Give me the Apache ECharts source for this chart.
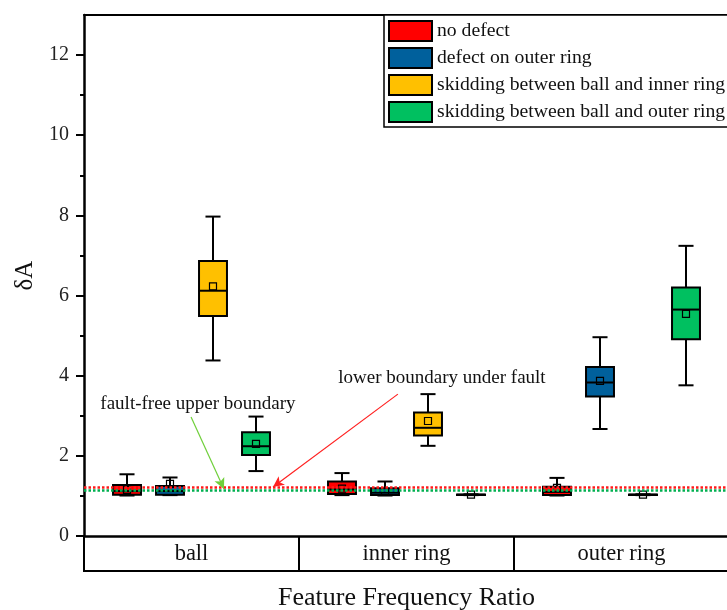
<!DOCTYPE html>
<html><head><meta charset="utf-8">
<script src="https://cdn.jsdelivr.net/npm/echarts@6/dist/echarts.min.js"></script>
<style>html,body{margin:0;padding:0;background:#fff}#c{width:727px;height:610px}</style>
</head><body><div id="c"></div>
<script>
// ---------- data ----------
const categories = ['ball', 'inner ring', 'outer ring'];
const seriesNames = ['no defect', 'defect on outer ring', 'skidding between ball and inner ring', 'skidding between ball and outer ring'];
// per category: [min, Q1, median, Q3, max, mean]
const noDefect    = [[1.01, 1.03, 1.12, 1.27, 1.54, 1.15], [1.02, 1.05, 1.16, 1.36, 1.57, 1.18], [1.01, 1.02, 1.10, 1.23, 1.45, 1.20]];
const outerDefect = [[1.02, 1.03, 1.12, 1.25, 1.46, 1.30], [1.01, 1.02, 1.08, 1.19, 1.36, 1.10], [2.67, 3.48, 3.83, 4.22, 4.96, 3.87]];
const skidInner   = [[4.38, 5.49, 6.12, 6.86, 7.97, 6.23], [2.25, 2.51, 2.70, 3.08, 3.54, 2.87], [1.02, 1.025, 1.03, 1.035, 1.04, 1.03]];
const skidOuter   = [[1.62, 2.02, 2.24, 2.59, 2.98, 2.30], [1.02, 1.025, 1.03, 1.035, 1.04, 1.03], [3.76, 4.91, 5.65, 6.20, 7.24, 5.54]];
const yTickLabels = [0, 2, 4, 6, 8, 10, 12];
const yMinorTicks = [1, 3, 5, 7, 9, 11];
const lowerBoundaryUnderFault = 1.21;
const faultFreeUpperBoundary = 1.13;
// annotation anchors in data space (x: 0..3 across the three categories)
const faultFreeText = {x: 0.53, y: 3.29, text: 'fault-free upper boundary'};
const faultFreeArrow = [[0.498, 2.97], [0.651, 1.17]];
const lowerText = {x: 1.665, y: 3.94, text: 'lower boundary under fault'};
const lowerArrow = [[1.46, 3.54], [0.879, 1.22]];

// ---------- layout & styles ----------
const W = 727, H = 610;
const GRID = {left: 84, right: -2, top: 15, bottom: 74};
const BAND_H = 35;
const colors = ['#ff0000', '#00609c', '#ffc000', '#00c060'];
const FONT = 'Liberation Serif';
const allData = [noDefect, outerDefect, skidInner, skidOuter];

function makeRender(si) {
  return function (params, api) {
    const cat = api.value(0);
    const mn = api.value(1), q1 = api.value(2), md = api.value(3), q3 = api.value(4), mx = api.value(5), mean = api.value(6);
    const band = api.size([1, 0])[0];
    const cx = api.coord([cat, 0])[0] + (si - 1.5) * band * 0.2;
    const bw = band * 0.13, cw = band * 0.07;
    const y = v => api.coord([cat, v])[1];
    const ls = {stroke: '#000', lineWidth: 2};
    return {
      type: 'group',
      children: [
        {type: 'line', shape: {x1: cx, y1: y(mx), x2: cx, y2: y(q3)}, style: ls},
        {type: 'line', shape: {x1: cx, y1: y(q1), x2: cx, y2: y(mn)}, style: ls},
        {type: 'line', shape: {x1: cx - cw / 2, y1: y(mx), x2: cx + cw / 2, y2: y(mx)}, style: ls},
        {type: 'line', shape: {x1: cx - cw / 2, y1: y(mn), x2: cx + cw / 2, y2: y(mn)}, style: ls},
        {type: 'rect', shape: {x: cx - bw / 2, y: y(q3), width: bw, height: Math.max(y(q1) - y(q3), 0.5)}, style: {fill: colors[si], stroke: '#000', lineWidth: 2}},
        {type: 'line', shape: {x1: cx - bw / 2, y1: y(md), x2: cx + bw / 2, y2: y(md)}, style: ls},
        {type: 'rect', shape: {x: cx - 3.5, y: y(mean) - 3.5, width: 7, height: 7}, style: {fill: 'none', stroke: '#000', lineWidth: 1.2}}
      ]
    };
  };
}

const series = allData.map((arr, si) => ({
  name: seriesNames[si],
  type: 'custom',
  xAxisIndex: 0, yAxisIndex: 0,
  itemStyle: {color: colors[si]},
  renderItem: makeRender(si),
  encode: {x: 0, y: [1, 2, 3, 4, 5]},
  data: arr.map((v, ci) => [ci].concat(v)),
  z: 2
}));

series.push({
  name: 'boundaries', type: 'line', xAxisIndex: 0, yAxisIndex: 0, data: [], z: 5,
  markLine: {
    silent: true, symbol: 'none', label: {show: false},
    lineStyle: {type: [2.5, 2], width: 2.5},
    data: [
      {yAxis: lowerBoundaryUnderFault, lineStyle: {color: '#ff1a1a', type: [2.5, 2], width: 2.5}},
      {yAxis: faultFreeUpperBoundary, lineStyle: {color: '#00b050', type: [2.5, 2], width: 2.5}}
    ]
  }
});

series.push({
  name: 'annotations', type: 'line', xAxisIndex: 2, yAxisIndex: 0, data: [], z: 6,
  markLine: {
    silent: true, symbol: ['none', 'arrow'], symbolSize: [8, 11], label: {show: false},
    data: [
      [{coord: faultFreeArrow[0], lineStyle: {color: '#6fcf3a', width: 1.2, type: 'solid'}}, {coord: faultFreeArrow[1]}],
      [{coord: lowerArrow[0], lineStyle: {color: '#ff2020', width: 1.2, type: 'solid'}}, {coord: lowerArrow[1]}]
    ]
  },
  markPoint: {
    silent: true, symbol: 'rect', symbolSize: 1,
    itemStyle: {color: 'transparent'},
    label: {show: true, position: 'inside', fontFamily: FONT, fontSize: 19, color: '#111', formatter: p => p.name},
    data: [
      {name: faultFreeText.text, coord: [faultFreeText.x, faultFreeText.y]},
      {name: lowerText.text, coord: [lowerText.x, lowerText.y]}
    ]
  }
});

const chart = echarts.init(document.getElementById('c'), null, {renderer: 'canvas'});
chart.setOption({
  animation: false,
  backgroundColor: '#fff',
  grid: {left: GRID.left, right: GRID.right, top: GRID.top, bottom: GRID.bottom, containLabel: false, outerBoundsMode: 'none'},
  graphic: [{
    type: 'line', silent: true, z: 10,
    shape: {x1: GRID.left - 1, y1: H - GRID.bottom + BAND_H, x2: W - GRID.right, y2: H - GRID.bottom + BAND_H},
    style: {stroke: '#000', lineWidth: 2}
  }],
  legend: {
    orient: 'vertical', left: 384, top: 15,
    padding: [5, 10, 4, 4],
    itemWidth: 43, itemHeight: 20, itemGap: 5,
    icon: 'rect',
    borderColor: '#000', borderWidth: 1.5, backgroundColor: '#fff',
    textStyle: {fontFamily: FONT, fontSize: 19.7, color: '#111'},
    data: seriesNames.map((n, i) => ({name: n, itemStyle: {color: colors[i], borderColor: '#000', borderWidth: 2}}))
  },
  xAxis: [
    {
      type: 'category', data: categories, position: 'bottom', boundaryGap: true,
      axisLine: {show: true, onZero: false, lineStyle: {color: '#000', width: 2.5}},
      axisTick: {show: true, inside: false, length: BAND_H, alignWithLabel: false, lineStyle: {color: '#000', width: 2}},
      axisLabel: {margin: 7, fontFamily: FONT, fontSize: 22.5, color: '#111'},
      splitLine: {show: false},
      name: 'Feature Frequency Ratio', nameLocation: 'middle', nameGap: 49,
      nameTextStyle: {fontFamily: FONT, fontSize: 26, color: '#111'}
    },
    {
      type: 'category', data: categories, position: 'top',
      axisLine: {show: true, onZero: false, lineStyle: {color: '#000', width: 2}},
      axisTick: {show: false}, axisLabel: {show: false}, splitLine: {show: false}
    },
    {type: 'value', min: 0, max: 3, show: false}
  ],
  yAxis: [
    {
      type: 'value', min: 0, max: 13, position: 'left',
      axisLine: {show: true, onZero: false, lineStyle: {color: '#000', width: 2.5}},
      axisTick: {show: true, inside: false, length: 8, customValues: yTickLabels, lineStyle: {color: '#000', width: 2}},
      axisLabel: {show: true, margin: 15, customValues: yTickLabels, fontFamily: FONT, fontSize: 20, color: '#222'},
      splitLine: {show: false},
      name: 'δA', nameLocation: 'middle', nameGap: 44,
      nameTextStyle: {fontFamily: FONT, fontSize: 25, color: '#111'}
    },
    {
      type: 'value', min: 0, max: 13, position: 'left',
      axisLine: {show: false, onZero: false},
      axisTick: {show: true, inside: false, length: 4, customValues: yMinorTicks, lineStyle: {color: '#000', width: 2}},
      axisLabel: {show: false}, splitLine: {show: false}
    }
  ],
  series: series
});
</script>
</body></html>
